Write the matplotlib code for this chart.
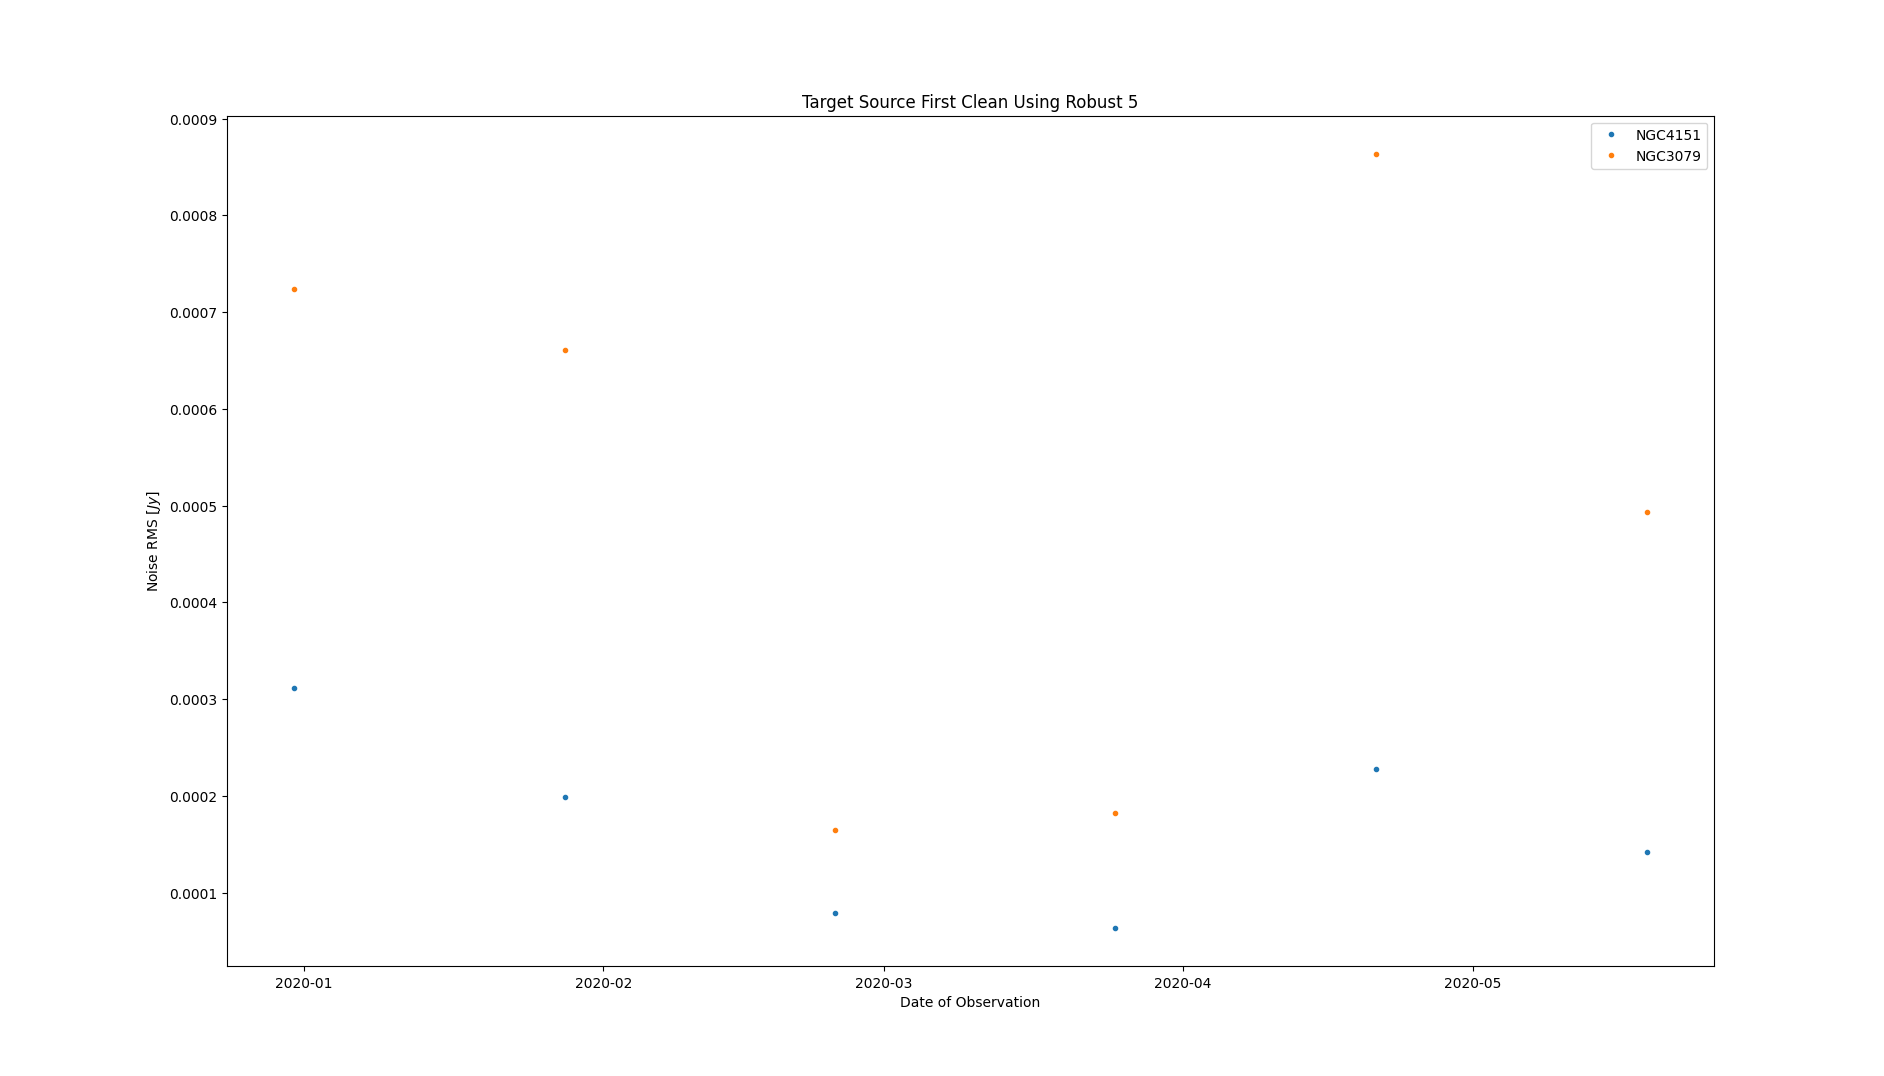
import numpy as np
import matplotlib
matplotlib.use('Agg')
import matplotlib.pyplot as plt
import matplotlib.dates as mdates
from datetime import datetime

# fechas de observacion
fechas = [datetime(2019, 12, 31), datetime(2020, 1, 28), datetime(2020, 2, 25),
          datetime(2020, 3, 25), datetime(2020, 4, 21), datetime(2020, 5, 19)]

rms_ngc4151 = [0.000311, 0.000199, 0.0000789, 0.0000637, 0.000228, 0.000142]
rms_ngc3079 = [0.000724, 0.000661, 0.000165, 0.000182, 0.000863, 0.000493]

fig, ax = plt.subplots(figsize=(18.84, 10.765), dpi=100)
fig.subplots_adjust(left=0.1203, right=0.91, bottom=0.1018, top=0.892)

ax.plot(fechas, rms_ngc4151, '.', label="NGC4151")
ax.plot(fechas, rms_ngc3079, '.', label="NGC3079")

ax.xaxis.set_major_locator(mdates.MonthLocator())
ax.xaxis.set_major_formatter(mdates.DateFormatter("%Y-%m"))

ax.set_title("Target Source First Clean Using Robust 5")
ax.set_xlabel("Date of Observation")
ax.set_ylabel(r"Noise RMS [$Jy$]")
ax.legend(loc="upper right")

fig.savefig("out.png", dpi=100)
